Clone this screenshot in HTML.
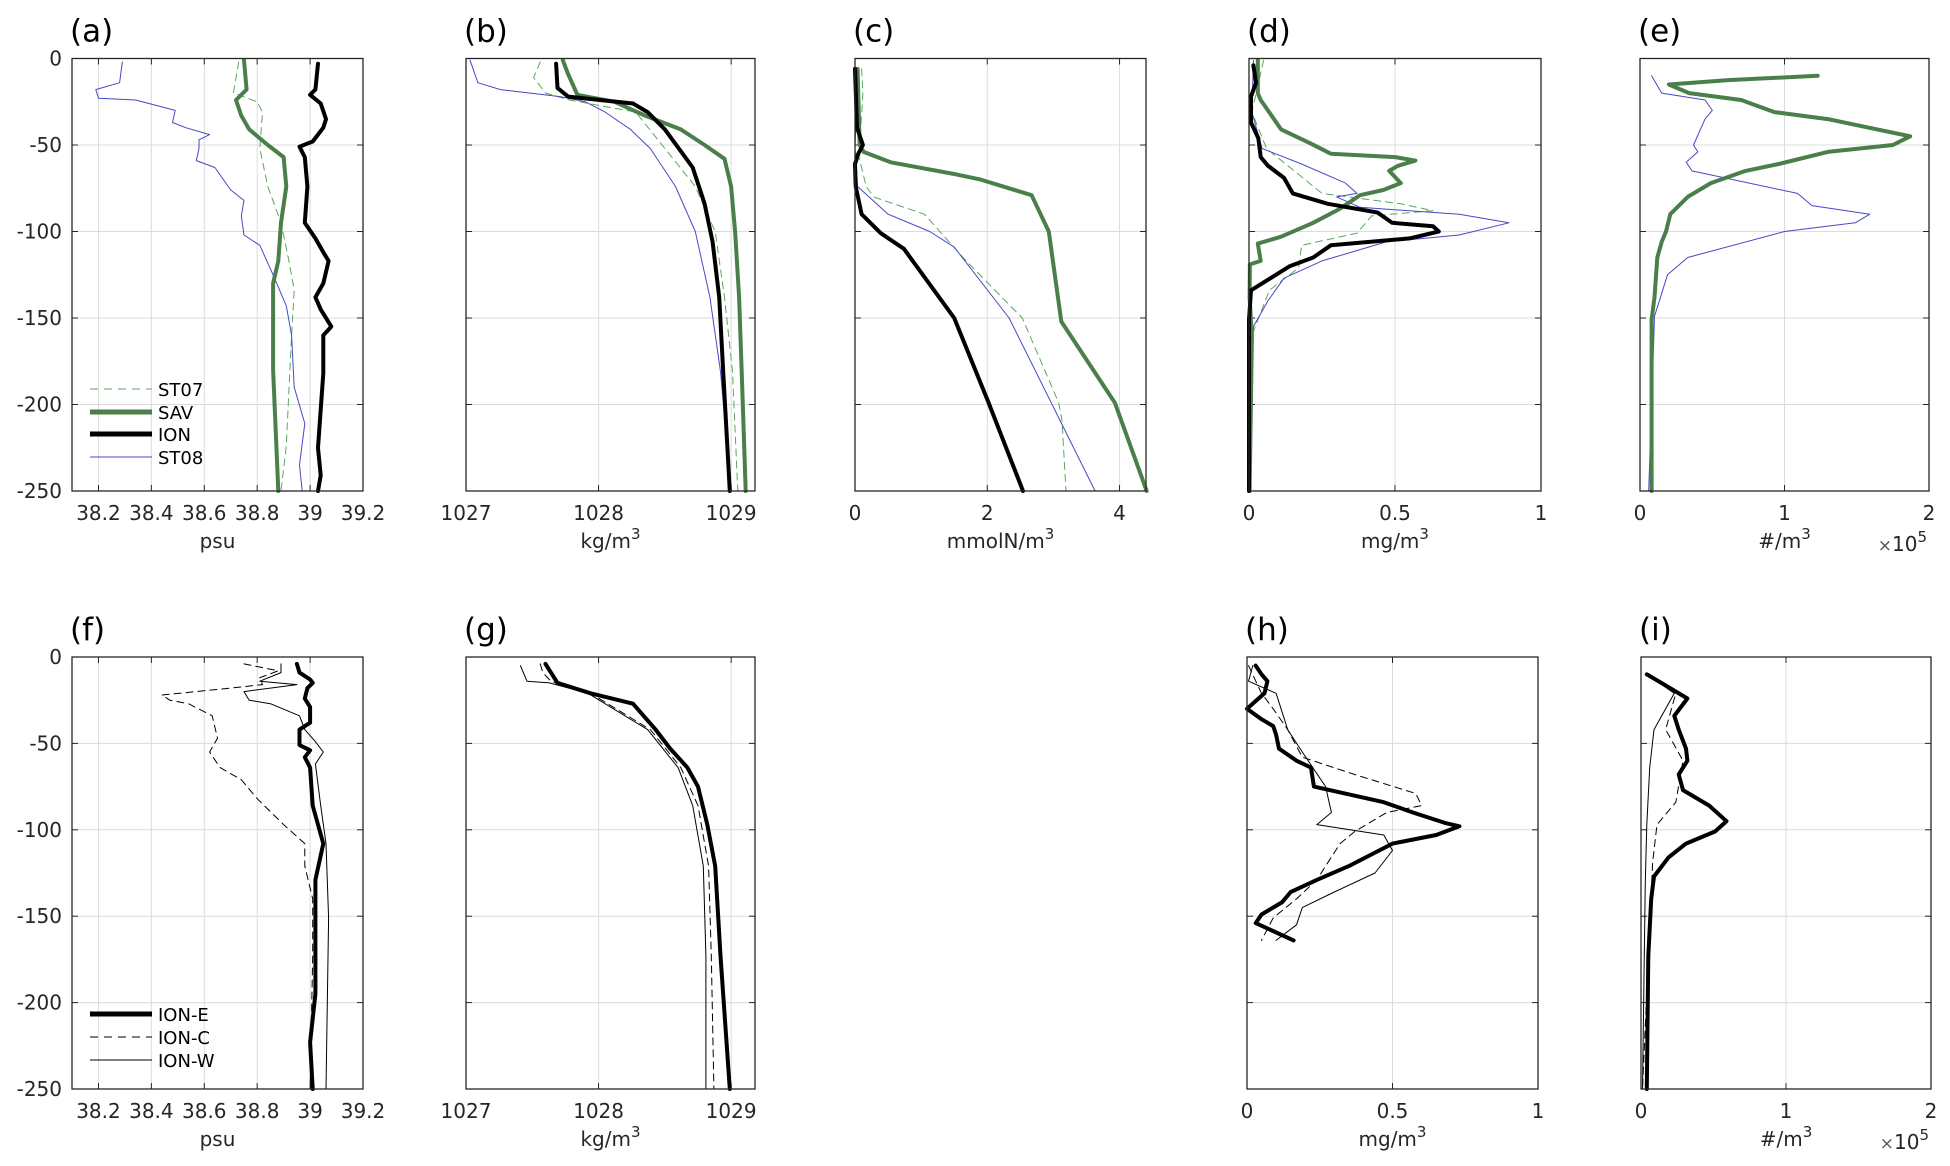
<!DOCTYPE html>
<html><head><meta charset="utf-8">
<style>
html,body{margin:0;padding:0;background:#fff;}
svg{display:block;font-family:"DejaVu Sans","Liberation Sans",sans-serif;}
</style></head>
<body>
<svg id="fig" width="1950" height="1166" viewBox="0 0 1950 1166" xmlns="http://www.w3.org/2000/svg"></svg>
<script>
// ---------- Panel (a) salinity ----------
const aST08_d=[2,14,18,23,24,30,37,40,44,47,52,59,63,76,82,91,102,108,125,143,160,190,211,235,250];
const aST08_v=[38.29,38.28,38.19,38.2,38.34,38.49,38.48,38.53,38.62,38.58,38.58,38.57,38.64,38.70,38.75,38.74,38.75,38.81,38.86,38.91,38.93,38.94,38.98,38.96,38.97];
const aST07_d=[2,20,25,31,52,74,95,117,134,160,192,224,250];
const aST07_v=[38.73,38.71,38.8,38.82,38.81,38.84,38.89,38.92,38.94,38.93,38.92,38.91,38.89];
const aSAV_d=[1,18,24,33,41,50,57,74,95,117,130,180,250];
const aSAV_v=[38.75,38.76,38.72,38.74,38.77,38.84,38.9,38.91,38.89,38.88,38.86,38.86,38.88];
const aION_d=[3,18,21,26,35,40,44,48,51,57,74,95,104,112,117,130,138,145,155,160,182,203,225,241,250];
const aION_v=[39.03,39.02,39.0,39.04,39.06,39.05,39.03,39.01,38.96,38.98,38.99,38.98,39.02,39.05,39.07,39.05,39.02,39.04,39.08,39.05,39.05,39.04,39.03,39.04,39.03];
// ---------- Panel (b) density ----------
const bST08_d=[1,14,18,22,25,31,41,52,74,100,138,181,250];
const bST08_v=[1027.03,1027.09,1027.26,1027.71,1027.9,1028.05,1028.24,1028.39,1028.58,1028.73,1028.84,1028.92,1029.0];
const bST07_d=[2,11,20,24,31,52,74,100,138,181,250];
const bST07_v=[1027.56,1027.51,1027.6,1027.78,1028.28,1028.5,1028.73,1028.88,1028.95,1029.01,1029.05];
const bSAV_d=[1,9,21,25,33,41,50,58,74,100,138,181,250];
const bSAV_v=[1027.73,1027.77,1027.84,1028.12,1028.35,1028.62,1028.8,1028.95,1029.0,1029.03,1029.06,1029.08,1029.11];
const bION_d=[3,17,22,24,26,31,41,63,84,106,138,181,250];
const bION_v=[1027.68,1027.69,1027.77,1028.01,1028.26,1028.37,1028.5,1028.71,1028.8,1028.86,1028.91,1028.94,1028.99];
// ---------- Panel (c) nitrate ----------
const cSAV_d=[6,50,54,60,67,70,79,100,152,199,250];
const cSAV_v=[0.04,0.07,0.13,0.54,1.53,1.9,2.67,2.93,3.12,3.93,4.41];
const cION_d=[6,40,50,55,61,74,90,101,110,150,198,250];
const cION_v=[0,0.03,0.12,0.05,0,0.01,0.1,0.39,0.74,1.5,2.01,2.54];
const cST07_d=[6,20,57,74,80,90,117,150,199,209,250];
const cST07_v=[0.1,0.12,0.06,0.17,0.28,1.05,1.68,2.53,3.08,3.13,3.19];
const cST08_d=[6,52,74,90,100,109,150,250];
const cST08_v=[0.04,0.0,0.04,0.5,1.13,1.5,2.33,3.63];
// ---------- Panel (d) chlorophyll ----------
const dSAV_d=[1,20,24,41,49,55,57,59,62,65,72,76,79,87,95,103,107,117,119,138,161,250];
const dSAV_v=[0.03,0.03,0.04,0.11,0.21,0.28,0.5,0.57,0.51,0.48,0.52,0.46,0.38,0.31,0.22,0.11,0.03,0.04,0.003,0.002,0.01,0.002];
const dION_d=[4,14,22,37,46,57,62,69,78,84,89,95,97,100,104,108,115,120,134,151,250];
const dION_v=[0.015,0.024,0.007,0.007,0.032,0.04,0.065,0.12,0.15,0.27,0.44,0.49,0.63,0.65,0.55,0.28,0.22,0.14,0.007,0.0,0.0];
const dST07_d=[1,31,52,67,78,84,88,91,101,108,121,134,160,250];
const dST07_v=[0.05,0.01,0.06,0.17,0.25,0.52,0.63,0.42,0.37,0.18,0.17,0.07,0.01,0.007];
const dST08_d=[1,31,52,61,72,78,80,86,90,95,102,106,117,127,140,155,250];
const dST08_v=[0.015,0.01,0.045,0.18,0.33,0.37,0.3,0.38,0.72,0.89,0.72,0.47,0.25,0.12,0.065,0.015,0.0];
// ---------- Panel (e) zooplankton (x1e5) ----------
const eSAV_d=[10,12.5,15,20,24,31,35,45,50,54,61,65,72,80,90,100,106,115,138,151,181,250];
const eSAV_v=[1.23,0.61,0.2,0.34,0.7,0.93,1.3,1.87,1.75,1.3,0.96,0.73,0.49,0.33,0.21,0.18,0.15,0.12,0.1,0.08,0.08,0.08];
const eST08_d=[10,20,24,30,35,50,54,60,65,78,85,90,95,100,115,125,149,250];
const eST08_v=[0.08,0.15,0.45,0.5,0.45,0.37,0.4,0.32,0.36,1.09,1.19,1.59,1.49,1.0,0.33,0.19,0.1,0.06];
// ---------- Panel (f) salinity ION ----------
const fE_d=[4,9,13,15,18,24,29,38,42,47,51,54,58,64,86,108,129,151,173,195,223,250];
const fE_v=[38.95,38.96,39.0,39.01,38.99,38.98,39.0,39.0,38.96,38.96,38.96,39.0,38.98,39.0,39.01,39.05,39.02,39.02,39.02,39.02,39.0,39.01];
const fC_d=[4,8,12,16,18,22,25,27,34,47,55,64,71,82,97,108,121,140,173,250];
const fC_v=[38.75,38.88,38.81,38.82,38.7,38.44,38.47,38.54,38.63,38.65,38.62,38.66,38.74,38.8,38.9,38.98,38.98,39.01,39.01,39.0];
const fW_d=[4,9,14,16,20,25,27,34,42,49,55,62,86,108,151,250];
const fW_v=[38.89,38.89,38.81,38.95,38.75,38.77,38.85,38.96,38.98,39.02,39.05,39.02,39.04,39.06,39.07,39.06];
// ---------- Panel (g) density ION ----------
const gE_d=[4,15,21,27,42,53,64,75,97,121,173,250];
const gE_v=[1027.6,1027.69,1027.94,1028.26,1028.43,1028.54,1028.67,1028.75,1028.82,1028.88,1028.92,1028.99];
const gC_d=[4,9,14,21,42,64,86,121,173,250];
const gC_v=[1027.56,1027.58,1027.64,1027.94,1028.39,1028.62,1028.75,1028.83,1028.85,1028.87];
const gW_d=[5,14,15,21,42,64,86,121,173,250];
const gW_v=[1027.41,1027.46,1027.63,1027.92,1028.37,1028.6,1028.71,1028.79,1028.81,1028.81];
// ---------- Panel (h) chlorophyll ION ----------
const hE_d=[5,10,14,21,30,36,40,45,53,60,64,75,84,90,96,98,103,108,121,129,136,142,149,154,164];
const hE_v=[0.03,0.05,0.07,0.06,0.0,0.05,0.09,0.1,0.11,0.17,0.22,0.23,0.47,0.57,0.68,0.73,0.65,0.5,0.35,0.24,0.15,0.12,0.05,0.03,0.16];
const hC_d=[5,21,30,42,58,68,79,86,90,101,108,121,129,140,151,164];
const hC_v=[0.005,0.05,0.09,0.14,0.19,0.37,0.58,0.6,0.48,0.37,0.32,0.27,0.24,0.17,0.09,0.05];
const hW_d=[5,14,21,42,55,75,90,97,103,112,125,136,145,155,164];
const hW_v=[0.02,0.005,0.1,0.14,0.19,0.27,0.29,0.24,0.47,0.5,0.44,0.30,0.19,0.17,0.1];
// ---------- Panel (i) zooplankton ION (x1e5) ----------
const iE_d=[10,15,24,34,42,53,60,68,77,86,95,101,108,116,127,140,173,250];
const iE_v=[0.04,0.14,0.32,0.23,0.26,0.31,0.32,0.26,0.29,0.47,0.59,0.51,0.31,0.19,0.09,0.07,0.05,0.04];
const iC_d=[10,21,42,60,84,97,119,250];
const iC_v=[0.06,0.24,0.17,0.29,0.24,0.11,0.08,0.01];
const iW_d=[10,21,42,64,97,130,250];
const iW_v=[0.04,0.23,0.09,0.06,0.04,0.03,0.01];

const yTicks=[0,-50,-100,-150,-200,-250];
const NS="http://www.w3.org/2000/svg";
const svg=document.getElementById('fig');
function mk(tag,attrs,parent){const e=document.createElementNS(NS,tag);for(const k in attrs)e.setAttribute(k,attrs[k]);(parent||svg).appendChild(e);return e;}

const GREEN="#4a7f4a",LGREEN="#5aa85a",BLUE="#4848c8";

function panel(cfg){
  const g=mk('g',{});
  
  
  const {x0,x1,y0,y1,xmin,xmax}=cfg;
  const sx=v=>x0+(v-xmin)/(xmax-xmin)*(x1-x0);
  const sy=d=>y0+(d/250)*(y1-y0);
  cfg.xticks.forEach(t=>{
    const X=sx(t);
    if(X>x0+1&&X<x1-1){const l=mk('line',{x1:X,x2:X,y1:y0,y2:y1,stroke:'#dcdcdc','stroke-width':1},g);
      }
  });
  yTicks.forEach(t=>{
    const Y=sy(-t);
    if(Y>y0+1&&Y<y1-1){const l=mk('line',{x1:x0,x2:x1,y1:Y,y2:Y,stroke:'#dcdcdc','stroke-width':1},g);
      }
    mk('line',{x1:x0,x2:x0+6,y1:Y,y2:Y,stroke:'#262626','stroke-width':1},g);
    mk('line',{x1:x1,x2:x1-6,y1:Y,y2:Y,stroke:'#262626','stroke-width':1},g);
    if(cfg.ylabels){const tx=mk('text',{x:x0-10,y:Y+7,'text-anchor':'end','font-size':20,fill:'#262626'},g);tx.textContent=t;
      }
  });
  cfg.xticks.forEach((t,i)=>{
    const X=sx(t);
    mk('line',{x1:X,x2:X,y1:y0,y2:y0+6,stroke:'#262626','stroke-width':1},g);
    mk('line',{x1:X,x2:X,y1:y1,y2:y1-6,stroke:'#262626','stroke-width':1},g);
    const tx=mk('text',{x:X,y:y1+29,'text-anchor':'middle','font-size':20,fill:'#262626'},g);
    tx.textContent=cfg.xlabels[i];
    
  });
  cfg.series.forEach(s=>{
    const pts=s.d.map((d,i)=>sx(s.v[i]).toFixed(1)+','+sy(d).toFixed(1)).join(' ');
    const p=mk('polyline',{points:pts,fill:'none',stroke:s.c,'stroke-width':s.w,'stroke-linejoin':'round','stroke-linecap':'round'},g);
    if(s.dash)p.setAttribute('stroke-dasharray',s.dash);
    
    
  });
  const r=mk('rect',{x:x0,y:y0,width:x1-x0,height:y1-y0,fill:'none',stroke:'#262626','stroke-width':1.3},g);
  
  const pl=mk('text',{x:x0-2,y:y0-17,'font-size':31,fill:'#000'},g);
  pl.textContent='('+cfg.id+')';
  
  const ul=mk('text',{x:(x0+x1)/2,y:y1+57,'text-anchor':'middle','font-size':20,fill:'#262626'},g);
  ul.innerHTML=cfg.unit;
  
  if(cfg.exp){const ex=mk('text',{x:x1-2,y:y1+60,'text-anchor':'end','font-size':20,fill:'#262626'},g);
    ex.innerHTML='<tspan font-size="17" fill="#555">×</tspan>10<tspan dy="-9" font-size="15">5</tspan>';
    }
  return g;
}
const R1=[58.5,491],R2=[657,1089];
const m3='<tspan dy="-9" font-size="15">3</tspan>';
const salT=[38.2,38.4,38.6,38.8,39,39.2],salL=['38.2','38.4','38.6','38.8','39','39.2'];
const denT=[1027,1028,1029],denL=['1027','1028','1029'];
panel({id:'a',x0:72,x1:363,y0:R1[0],y1:R1[1],xmin:38.1,xmax:39.2,xticks:salT,xlabels:salL,ylabels:true,unit:'psu',
  series:[{name:'st07',d:aST07_d,v:aST07_v,c:LGREEN,w:1,dash:'7,5'},{name:'st08',d:aST08_d,v:aST08_v,c:BLUE,w:1},
          {name:'sav',d:aSAV_d,v:aSAV_v,c:GREEN,w:4},{name:'ion',d:aION_d,v:aION_v,c:'#000',w:4}]});
panel({id:'b',x0:466,x1:755,y0:R1[0],y1:R1[1],xmin:1027,xmax:1029.18,xticks:denT,xlabels:denL,unit:'kg/m'+m3,
  series:[{name:'st07',d:bST07_d,v:bST07_v,c:LGREEN,w:1,dash:'7,5'},{name:'st08',d:bST08_d,v:bST08_v,c:BLUE,w:1},
          {name:'sav',d:bSAV_d,v:bSAV_v,c:GREEN,w:4},{name:'ion',d:bION_d,v:bION_v,c:'#000',w:4}]});
panel({id:'c',x0:855,x1:1146,y0:R1[0],y1:R1[1],xmin:0,xmax:4.4,xticks:[0,2,4],xlabels:['0','2','4'],unit:'mmolN/m'+m3,
  series:[{name:'st07',d:cST07_d,v:cST07_v,c:LGREEN,w:1,dash:'7,5'},{name:'st08',d:cST08_d,v:cST08_v,c:BLUE,w:1},
          {name:'sav',d:cSAV_d,v:cSAV_v,c:GREEN,w:4},{name:'ion',d:cION_d,v:cION_v,c:'#000',w:4}]});
panel({id:'d',x0:1249,x1:1541,y0:R1[0],y1:R1[1],xmin:0,xmax:1,xticks:[0,0.5,1],xlabels:['0','0.5','1'],unit:'mg/m'+m3,
  series:[{name:'st07',d:dST07_d,v:dST07_v,c:LGREEN,w:1,dash:'7,5'},{name:'st08',d:dST08_d,v:dST08_v,c:BLUE,w:1},
          {name:'sav',d:dSAV_d,v:dSAV_v,c:GREEN,w:4},{name:'ion',d:dION_d,v:dION_v,c:'#000',w:4}]});
panel({id:'e',x0:1640,x1:1929,y0:R1[0],y1:R1[1],xmin:0,xmax:2,xticks:[0,1,2],xlabels:['0','1','2'],unit:'#/m'+m3,exp:true,
  series:[{name:'st08',d:eST08_d,v:eST08_v,c:BLUE,w:1},{name:'sav',d:eSAV_d,v:eSAV_v,c:GREEN,w:4}]});
panel({id:'f',x0:72,x1:363,y0:R2[0],y1:R2[1],xmin:38.1,xmax:39.2,xticks:salT,xlabels:salL,ylabels:true,unit:'psu',
  series:[{name:'ion-c',d:fC_d,v:fC_v,c:'#000',w:1,dash:'7,5'},{name:'ion-w',d:fW_d,v:fW_v,c:'#000',w:1},
          {name:'ion-e',d:fE_d,v:fE_v,c:'#000',w:4}]});
panel({id:'g',x0:466,x1:755,y0:R2[0],y1:R2[1],xmin:1027,xmax:1029.18,xticks:denT,xlabels:denL,unit:'kg/m'+m3,
  series:[{name:'ion-c',d:gC_d,v:gC_v,c:'#000',w:1,dash:'7,5'},{name:'ion-w',d:gW_d,v:gW_v,c:'#000',w:1},
          {name:'ion-e',d:gE_d,v:gE_v,c:'#000',w:4}]});
panel({id:'h',x0:1247,x1:1538,y0:R2[0],y1:R2[1],xmin:0,xmax:1,xticks:[0,0.5,1],xlabels:['0','0.5','1'],unit:'mg/m'+m3,
  series:[{name:'ion-c',d:hC_d,v:hC_v,c:'#000',w:1,dash:'7,5'},{name:'ion-w',d:hW_d,v:hW_v,c:'#000',w:1},
          {name:'ion-e',d:hE_d,v:hE_v,c:'#000',w:4}]});
panel({id:'i',x0:1641,x1:1931,y0:R2[0],y1:R2[1],xmin:0,xmax:2,xticks:[0,1,2],xlabels:['0','1','2'],unit:'#/m'+m3,exp:true,
  series:[{name:'ion-c',d:iC_d,v:iC_v,c:'#000',w:1,dash:'7,5'},{name:'ion-w',d:iW_d,v:iW_v,c:'#000',w:1},
          {name:'ion-e',d:iE_d,v:iE_v,c:'#000',w:4}]});

function legend(items,ys){
  const g=mk('g',{});
  
  
  items.forEach((it,i)=>{
    const l=mk('line',{x1:90,x2:152,y1:ys[i],y2:ys[i],stroke:it.c,'stroke-width':it.w},g);
    if(it.dash)l.setAttribute('stroke-dasharray',it.dash);
    
    
    const t=mk('text',{x:158,y:ys[i]+7,'font-size':18,fill:'#000'},g);
    t.textContent=it.t;
    
    
  });
}
legend([{t:'ST07',c:LGREEN,w:1,dash:'8,6'},{t:'SAV',c:GREEN,w:5},{t:'ION',c:'#000',w:5},{t:'ST08',c:BLUE,w:1}],[389,412,434,457]);
legend([{t:'ION-E',c:'#000',w:5},{t:'ION-C',c:'#000',w:1,dash:'8,6'},{t:'ION-W',c:'#000',w:1}],[1014,1037,1060]);
</script>
</body></html>
